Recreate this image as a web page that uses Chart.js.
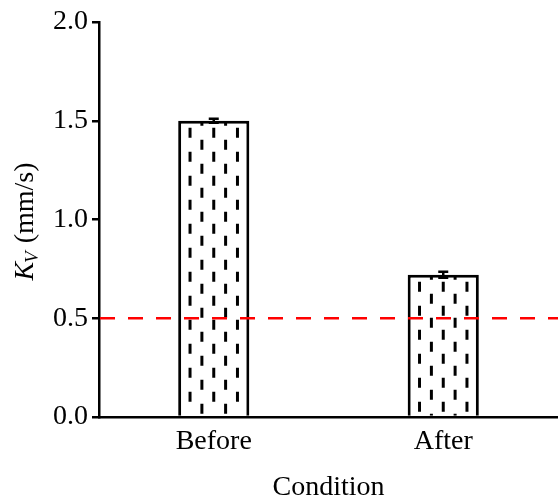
<!DOCTYPE html>
<html>
<head>
<meta charset="utf-8">
<script src="https://cdn.jsdelivr.net/npm/chart.js@4.4.1/dist/chart.umd.min.js"></script>
<style>
    html, body { margin: 0; padding: 0; background: #fff; }
    #wrap { width: 558px; height: 499px; position: relative; }
</style>
</head>
<body>
<div id="wrap"><canvas id="kvChart"></canvas></div>
<script>
// === DATA ===
const categories = ['Before', 'After'];
const kvValues = [1.50, 0.72];
const kvErrors = [0.01, 0.015];
const thresholdValue = 0.5;
const yTickValues = [0.0, 0.5, 1.0, 1.5, 2.0];

const FONT = "'Liberation Serif', 'Times New Roman', serif";

// hatch: vertical dashed lines inside each bar
const hatchPlugin = {
    id: 'hatch',
    afterDatasetsDraw(chart) {
        const ctx = chart.ctx;
        const meta = chart.getDatasetMeta(0);
        meta.data.forEach(bar => {
            const { x, y, base, width } = bar.getProps(['x', 'y', 'base', 'width'], true);
            const left = x - width / 2;
            const top = Math.min(y, base);
            const bottom = Math.max(y, base);
            ctx.save();
            ctx.beginPath();
            ctx.rect(left + 1.5, top + 1.5, width - 3, bottom - top - 1.5);
            ctx.clip();
            ctx.strokeStyle = '#000';
            ctx.lineWidth = 3;
            ctx.setLineDash([10, 14]);
            for (let k = 1; k <= 5; k++) {
                const lx = left + k * width / 6;
                ctx.lineDashOffset = (k % 2 === 1) ? 17 : 5;
                ctx.beginPath();
                ctx.moveTo(lx, top);
                ctx.lineTo(lx, bottom);
                ctx.stroke();
            }
            ctx.restore();
        });
    }
};

// error bars + red dashed threshold line
const overlayPlugin = {
    id: 'overlay',
    afterDatasetsDraw(chart) {
        const ctx = chart.ctx;
        const yScale = chart.scales.y;
        const area = chart.chartArea;
        const meta = chart.getDatasetMeta(0);

        ctx.save();
        ctx.strokeStyle = '#000';
        ctx.lineWidth = 2.5;
        meta.data.forEach((bar, i) => {
            const cx = bar.x;
            const yHi = yScale.getPixelForValue(kvValues[i] + kvErrors[i]);
            const yLo = yScale.getPixelForValue(kvValues[i] - kvErrors[i]);
            ctx.beginPath();
            ctx.moveTo(cx, yHi); ctx.lineTo(cx, yLo);
            ctx.moveTo(cx - 5, yHi); ctx.lineTo(cx + 5, yHi);
            ctx.moveTo(cx - 5, yLo); ctx.lineTo(cx + 5, yLo);
            ctx.stroke();
        });

        const ty = yScale.getPixelForValue(thresholdValue);
        ctx.strokeStyle = '#ff0000';
        ctx.lineWidth = 2.5;
        ctx.setLineDash([15, 13]);
        ctx.beginPath();
        ctx.moveTo(area.left + 1, ty);
        ctx.lineTo(area.right, ty);
        ctx.stroke();
        ctx.restore();
    }
};

// y title with italic K and subscript V
const yTitlePlugin = {
    id: 'yTitle',
    afterDraw(chart) {
        const ctx = chart.ctx;
        const area = chart.chartArea;
        const mainFont = 'italic 28px ' + FONT;
        const subFont = 'italic 19px ' + FONT;
        const restFont = '28px ' + FONT;
        ctx.save();
        ctx.font = mainFont;
        const wK = ctx.measureText('K').width;
        ctx.font = subFont;
        const wV = ctx.measureText('V').width;
        ctx.font = restFont;
        const wRest = ctx.measureText(' (mm/s)').width;
        const total = wK + wV + wRest;
        ctx.translate(33, (area.top + area.bottom) / 2 + 2);
        ctx.rotate(-Math.PI / 2);
        ctx.fillStyle = '#000';
        ctx.textBaseline = 'alphabetic';
        ctx.textAlign = 'left';
        let px = -total / 2;
        ctx.font = mainFont;
        ctx.fillText('K', px, 0);
        px += wK;
        ctx.font = subFont;
        ctx.fillText('V', px - 1, 5);
        px += wV;
        ctx.font = restFont;
        ctx.fillText(' (mm/s)', px, 0);
        ctx.restore();
    }
};

new Chart(document.getElementById('kvChart'), {
    type: 'bar',
    data: {
        labels: categories,
        datasets: [{
            data: kvValues,
            backgroundColor: '#ffffff',
            borderColor: '#000000',
            borderWidth: 3,
            barPercentage: 0.31,
            categoryPercentage: 1.0
        }]
    },
    options: {
        responsive: true,
        maintainAspectRatio: false,
        animation: false,
        layout: { padding: { top: 22, left: 0, right: 0, bottom: 0 } },
        plugins: {
            legend: { display: false },
            tooltip: { enabled: false }
        },
        scales: {
            x: {
                grid: { display: false, drawTicks: false },
                border: { color: '#000', width: 2.5 },
                ticks: { color: '#000', font: { family: FONT, size: 28 }, padding: 8 },
                title: {
                    display: true,
                    text: 'Condition',
                    color: '#000',
                    font: { family: FONT, size: 28, lineHeight: 1 },
                    padding: { top: 0, bottom: -3 }
                },
                afterFit(scale) { scale.height = 82; }
            },
            y: {
                min: 0,
                max: 2,
                afterBuildTicks(scale) {
                    scale.ticks = yTickValues.map(v => ({ value: v }));
                },
                grid: {
                    drawOnChartArea: false,
                    drawTicks: true,
                    tickLength: 7,
                    tickColor: '#000',
                    lineWidth: 2.5
                },
                border: { color: '#000', width: 2.5 },
                ticks: {
                    color: '#000',
                    font: { family: FONT, size: 28 },
                    padding: 4,
                    callback: v => Number(v).toFixed(1)
                },
                afterFit(scale) { scale.width = 99; }
            }
        }
    },
    plugins: [hatchPlugin, overlayPlugin, yTitlePlugin]
});
</script>
</body>
</html>
